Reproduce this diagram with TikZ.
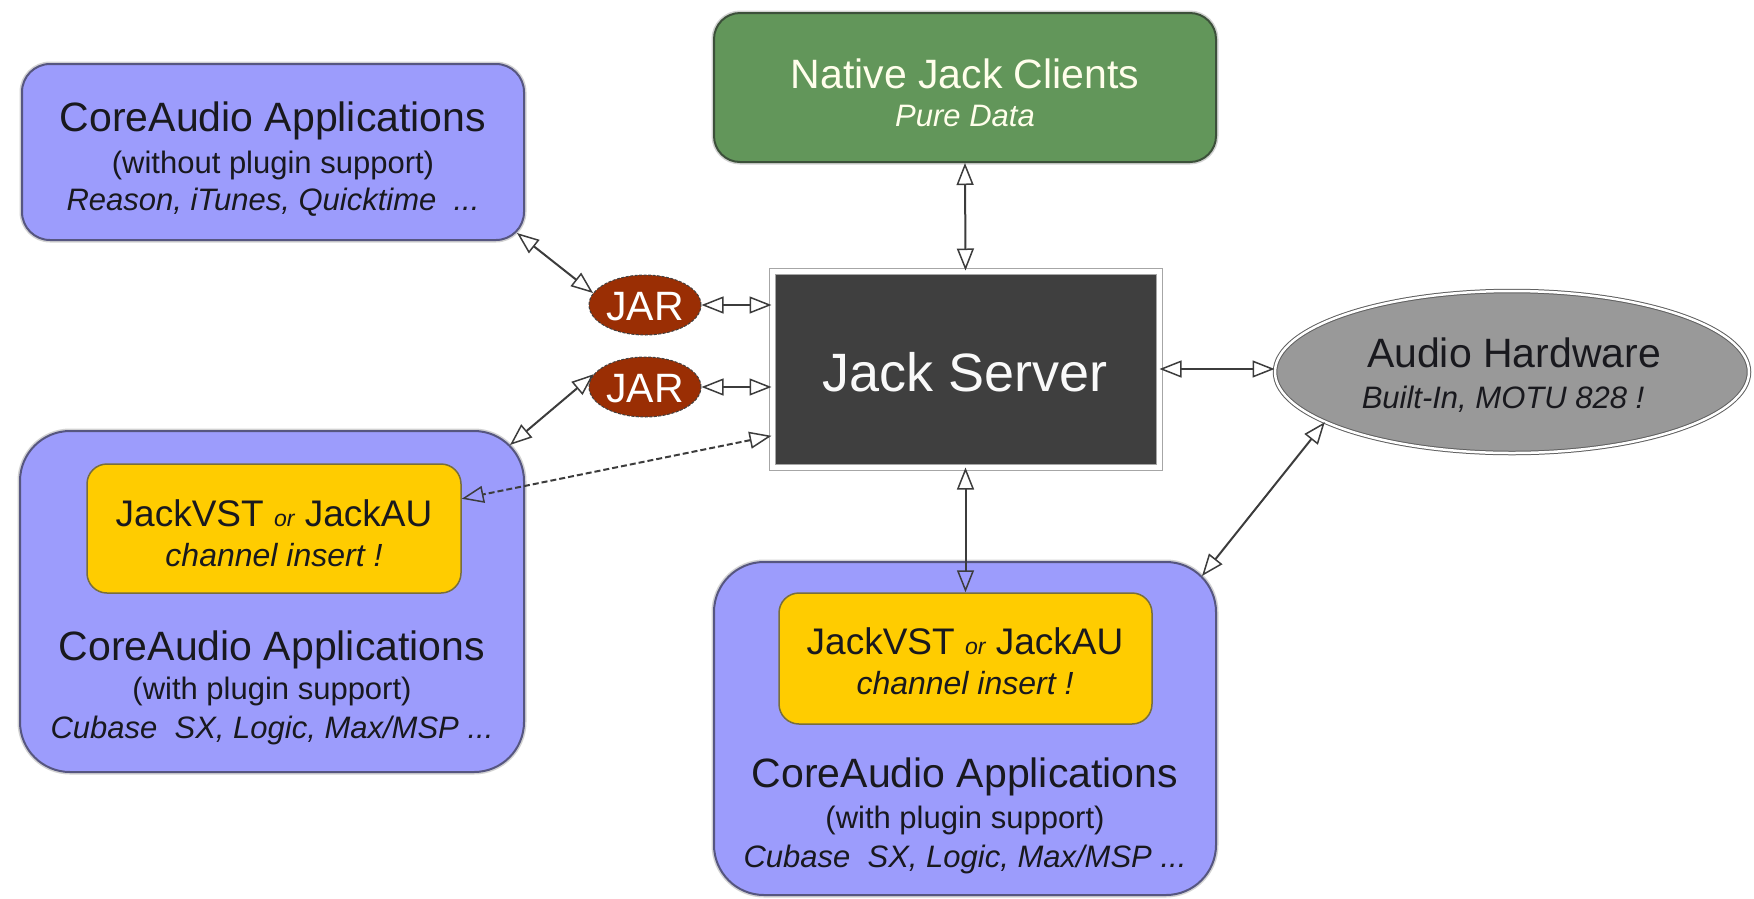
\documentclass[tikz,border=0pt]{standalone}
\usepackage{fontspec}
\setmainfont{Liberation Sans}
\usetikzlibrary{arrows.meta,shapes.geometric,calc}
\definecolor{boxblue}{RGB}{156,156,252}
\definecolor{bluebdr}{RGB}{86,86,128}
\definecolor{natgreen}{RGB}{98,150,90}
\definecolor{natbdr}{RGB}{60,80,58}
\definecolor{srvgray}{RGB}{63,63,63}
\definecolor{jarbrown}{RGB}{154,46,4}
\definecolor{ayellow}{RGB}{255,204,0}
\definecolor{ybdr}{RGB}{120,110,60}
\definecolor{hwgray}{RGB}{153,153,153}
\definecolor{txt}{RGB}{25,25,30}
\definecolor{linec}{RGB}{60,60,60}
\begin{document}
\begin{tikzpicture}[x=1pt,y=-1pt,
  halo/.style={preaction={draw=gray!35,line width=5pt}},
  bluebox/.style={halo,draw=bluebdr,line width=2pt,fill=boxblue,inner sep=0pt},
  natbox/.style={halo,draw=natbdr,line width=2pt,fill=natgreen,rounded corners=26pt,inner sep=0pt},
  ybox/.style={draw=ybdr,line width=1.5pt,fill=ayellow,rounded corners=20pt,inner sep=0pt},
  jarnode/.style={ellipse,draw=gray!50!black,line width=1pt,dash pattern=on 3pt off 1.5pt,fill=jarbrown,inner sep=0pt,minimum width=112pt,minimum height=60pt,text=white,font=\fontsize{41}{48}\selectfont},
  ttl/.style={anchor=base,text=txt,font=\fontsize{41}{48}\selectfont,inner sep=0pt},
  sub/.style={anchor=base,text=txt,font=\fontsize{31}{36}\selectfont,inner sep=0pt},
  ital/.style={anchor=base,text=txt,font=\fontsize{31}{36}\selectfont\itshape,inner sep=0pt},
  conn/.style={draw=linec,line width=2pt,{Triangle[open,length=22pt,width=17pt,line width=1.5pt]}-{Triangle[open,length=22pt,width=17pt,line width=1.5pt]}},
  ]
\useasboundingbox (0,0) rectangle (1754,898);

% boxes
\node[bluebox,rounded corners=28pt,minimum width=502pt,minimum height=176pt] (tl) at (273,152) {};
\node[natbox,minimum width=502pt,minimum height=149pt] (nat) at (965,87.5) {};
\node[draw=gray!70,line width=1pt,double=white,double distance=5pt,fill=srvgray,minimum width=387pt,minimum height=196pt,inner sep=0pt] (srv) at (965.5,369) {};
\node[jarnode] (jar1) at (645,305) {};
\node[jarnode] (jar2) at (645,387) {};
\node[ellipse,draw=gray!75!black,line width=1pt,double=white,double distance=2.5pt,fill=hwgray,minimum width=474pt,minimum height=162pt,inner sep=0pt] (ah) at (1512,372) {};
\node[bluebox,rounded corners=50pt,minimum width=504pt,minimum height=341pt] (bl) at (272,601.5) {};
\node[ybox,minimum width=374pt,minimum height=129pt] (blj) at (274,528.5) {};
\node[bluebox,rounded corners=50pt,minimum width=502pt,minimum height=333pt] (bm) at (965,728.5) {};
\node[ybox,minimum width=373pt,minimum height=131pt] (bmj) at (965.5,658.5) {};

% texts
\node[ttl] (tl1) at (273,131) {CoreAudio Applications};
\node[sub] (tl2) at (273,173) {(without plugin support)};
\node[ital] (tl3) at (273,210) {Reason, iTunes, Quicktime \ ...};

\node[ttl,text=white!92!yellow] (nat1) at (965,88) {Native Jack Clients};
\node[ital,text=white!92!yellow] (nat2) at (965,126) {Pure Data};

\node[anchor=base,text=white!95!gray,font=\fontsize{54}{60}\selectfont,inner sep=0pt] (srvt) at (965,391) {Jack Server};

\node[anchor=base,text=white,font=\fontsize{41}{48}\selectfont,inner sep=0pt] (jar1t) at (645,320) {JAR};
\node[anchor=base,text=white,font=\fontsize{41}{48}\selectfont,inner sep=0pt] (jar2t) at (645,402) {JAR};

\node[ttl] (ah1) at (1514,367) {Audio Hardware};
\node[ital] (ah2) at (1503,408) {Built-In, MOTU 828 !};

\node[anchor=base,text=txt,font=\fontsize{37}{44}\selectfont,inner sep=0pt] (blj1) at (274,526) {JackVST {\fontsize{23}{28}\selectfont\itshape or} JackAU};
\node[ital,font=\fontsize{32}{38}\selectfont\itshape] (blj2) at (274,566) {channel insert !};
\node[ttl] (bl1) at (272,660) {CoreAudio Applications};
\node[sub] (bl2) at (272,699) {(with plugin support)};
\node[ital] (bl3) at (272,738) {Cubase \ SX, Logic, Max/MSP ...};

\node[anchor=base,text=txt,font=\fontsize{37}{44}\selectfont,inner sep=0pt] (bmj1) at (965,654) {JackVST {\fontsize{23}{28}\selectfont\itshape or} JackAU};
\node[ital,font=\fontsize{32}{38}\selectfont\itshape] (bmj2) at (965,694) {channel insert !};
\node[ttl] (bm1) at (965,787) {CoreAudio Applications};
\node[sub] (bm2) at (965,828) {(with plugin support)};
\node[ital] (bm3) at (965,867) {Cubase \ SX, Logic, Max/MSP ...};

% connectors
\draw[conn] ($(tl.south east)+(-8,-8)$) -- (jar1.167);
\draw[conn] (jar1.east) -- (jar1.east -| srv.west);
\draw[conn] (jar2.east) -- (jar2.east -| srv.west);
\draw[conn] (jar2.166) -- ($(bl.north east)+(-15,15)$);
\draw[conn,dash pattern=on 6pt off 3pt] (srv.199) -- (blj.9);
\draw[conn] (nat.south) -- (srv.north);
\draw[conn] (srv.south) -- (bmj.north);
\draw[conn] (srv.east) -- (srv.east -| ah.west);
\draw[conn] (ah.195) -- ($(bm.north east)+(-15,15)$);
\end{tikzpicture}
\end{document}
